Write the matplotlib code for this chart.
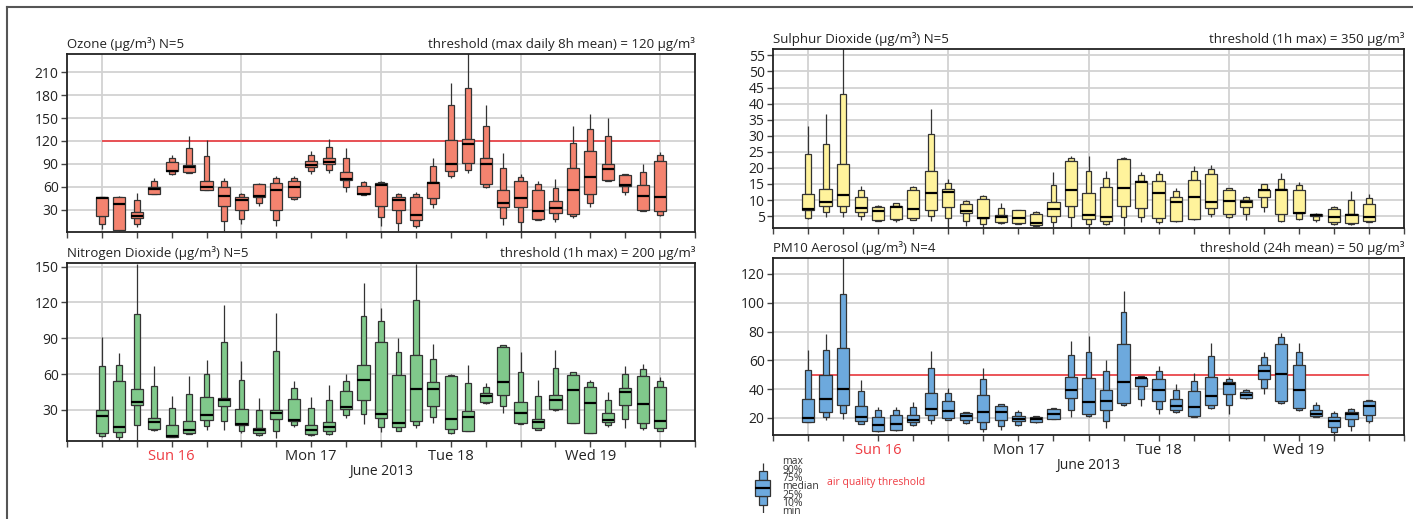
import matplotlib
matplotlib.use('Agg')
import matplotlib.pyplot as plt
from matplotlib.patches import Rectangle
from matplotlib.lines import Line2D

plt.rcParams['font.family'] = ['Open Sans', 'DejaVu Sans']

# box times: hours after Sun 16 June 2013 00:00, every 3 h
hours = list(range(0, 97, 3))
day_names = ['Sun 16', 'Mon 17', 'Tue 18', 'Wed 19']
day_noons = [12, 36, 60, 84]
midnights = [0, 24, 48, 72, 96]
six_hours = list(range(-6, 103, 6))

# each row: (min, 10%, 25%, median, 75%, 90%, max)
o3 = [
    (4, 11, 22, 45, 46, 47, 47), (2, 2.5, 3, 37, 46, 47, 48), (7, 11, 19, 22, 27, 42, 52),
    (50, 50, 51, 57, 60, 67, 71), (75, 77, 80, 81, 92, 98, 101), (78, 78, 79, 86, 89, 111, 126),
    (55, 55, 56, 59, 68, 100, 121), (2, 15, 35, 48, 60, 67, 71), (11, 18, 30, 43, 47, 51, 52),
    (34, 38, 46, 48, 64, 64, 65), (9, 16, 29, 55, 65, 71, 74), (43, 44, 46, 59, 68, 71, 74),
    (77, 80, 86, 89, 93, 102, 107), (78, 82, 90, 92, 97, 112, 122), (53, 59, 69, 70, 79, 98, 111),
    (49, 49, 50, 51, 61, 66, 68), (9, 20, 35, 62, 65, 66, 67), (2, 12, 30, 43, 46, 50, 52),
    (6, 9, 16, 23, 47, 51, 53), (32, 37, 45, 65, 66, 87, 98), (71, 74, 80, 90, 121, 167, 196),
    (78, 82, 91, 116, 122, 189, 240), (58, 60, 63, 90, 97, 139, 167), (10, 19, 33, 38, 55, 85, 104),
    (1, 14, 33, 45, 68, 73, 76), (16, 16, 17, 28, 56, 64, 68), (13, 18, 25, 32, 41, 58, 70),
    (19, 21, 24, 56, 84, 117, 140), (33, 39, 50, 73, 107, 136, 155), (68, 68, 69, 83, 90, 126, 150),
    (49, 53, 61, 62, 75, 76, 77), (28, 28, 29, 48, 62, 79, 90), (21, 23, 28, 47, 94, 101, 105),
]

no2 = [
    (7, 8, 11, 25, 30, 67, 91), (5, 7.4, 11.6, 16, 54, 68, 78), (5, 17, 34.5, 37, 47.5, 110, 152),
    (12, 13, 14, 20, 23, 50, 67), (7, 7, 7.5, 8, 17, 32, 42), (10, 10, 11, 13, 21, 43, 58),
    (13, 16.3, 21.5, 25.5, 41, 60, 72), (13.5, 21, 33, 38, 40, 87, 118), (11, 12, 17, 18, 31, 55, 71),
    (8, 9, 11, 13, 15, 30, 40), (6.3, 12.2, 22.5, 27.5, 30, 79, 111), (16, 17, 20.8, 21.6, 39.5, 48.4, 54),
    (8, 9, 9.5, 13, 17, 32, 41), (9, 10, 12, 16, 20, 38, 51), (23.3, 26, 31, 32.5, 45.6, 54, 60),
    (18.6, 27, 38.4, 55.3, 67.9, 109, 136), (11.3, 15.5, 23.3, 26.5, 86.6, 104.4, 115),
    (12, 12.2, 15.8, 19, 59.3, 78.2, 90.5), (14.7, 17.2, 21, 47.5, 75.7, 122, 152),
    (19, 24.4, 33, 47.5, 53, 72.6, 85.4), (10, 10.8, 14, 22.5, 58.7, 59.5, 60),
    (12, 12.2, 12.7, 24, 29.2, 52.3, 68), (35.3, 36, 37, 41.4, 44, 49, 52.5),
    (27.5, 33.3, 42.8, 53, 82.6, 84, 84.5), (18.3, 18.6, 18.9, 27.2, 36.4, 61.8, 78.8),
    (13, 13.6, 15, 19.7, 22.2, 42, 55), (29.5, 29.8, 30.8, 38, 42.5, 65.4, 80),
    (19, 19, 19.3, 46.4, 59, 61.8, 62), (10.5, 10.8, 11, 35.8, 49.5, 53.4, 55),
    (15.5, 17, 20.2, 21.4, 27.5, 38, 45), (15, 22.8, 34.2, 44.8, 48.4, 59.8, 67),
    (13.6, 15, 19, 35, 58.4, 64.5, 68.4), (12, 12.2, 15, 21, 49, 54.5, 57.9),
]

so2 = [
    (4, 4.3, 7, 7.3, 11.8, 24.4, 33), (4.8, 6.2, 8.1, 9.5, 13.4, 27.5, 36.7),
    (4.6, 6.3, 8.2, 11.7, 21.2, 42.9, 60), (3.7, 5, 6.4, 7.5, 10.9, 13, 14.4),
    (3.5, 3.6, 3.7, 6.7, 7.7, 8.2, 8.4), (3.3, 3.7, 4.2, 7.8, 8, 9, 9.2),
    (3.7, 3.8, 4.5, 7.1, 13.2, 14.1, 14.4), (3.5, 5, 7, 12.1, 19, 30.6, 38.3),
    (1, 4.5, 7.9, 12.6, 13.4, 15.3, 16.5), (1.9, 3.4, 6, 6.6, 8.7, 9.6, 10),
    (1.3, 2.7, 4.3, 4.4, 10.2, 11.2, 11.5), (2.6, 2.8, 3.2, 4.7, 5.2, 7.6, 9.2),
    (2.5, 2.7, 2.9, 4.4, 6.8, 6.9, 7), (1.7, 1.9, 2.1, 3, 5.7, 6.3, 6.6),
    (1.7, 3.2, 5, 7.1, 9.4, 14.8, 18.6), (1.7, 4.6, 8.3, 13.2, 22.3, 23.1, 23.6),
    (1, 2.7, 4.2, 5.5, 12.1, 19.1, 23.8), (2.3, 2.7, 3.6, 4.8, 14.2, 17, 18.9),
    (1.9, 4.6, 8.1, 13.9, 22.8, 23.2, 23.4), (3.1, 4.6, 7.4, 15.7, 16, 17.7, 18.7),
    (2.7, 3.3, 4.4, 12.3, 15.9, 18, 19), (3.3, 3.4, 3.6, 9.4, 10.9, 12.7, 13.9),
    (3.8, 4, 4.2, 11, 16.2, 19, 20.6), (4.6, 5.6, 7.4, 9.3, 18, 19.7, 20.8),
    (4.3, 4.6, 5.8, 9.8, 13.2, 13.6, 13.9), (3.8, 5.6, 7.7, 9.5, 10, 10.9, 11.4),
    (6.2, 7.8, 10.9, 13, 13.2, 14.9, 15.1), (3.3, 3.4, 5.6, 13.2, 13.5, 16.5, 18.5),
    (3.7, 4, 6, 6.1, 13.2, 14.7, 15.5), (3.2, 3.8, 5, 5.3, 5.6, 5.7, 5.9),
    (2.2, 2.5, 3.2, 4.6, 7.1, 7.9, 8.2), (2.1, 2.4, 2.9, 5.2, 5.6, 9.9, 12.8),
    (3.2, 3.3, 3.4, 4.7, 8.7, 10.6, 11.8),
]

pm10 = [
    (17, 17.3, 17.5, 19.8, 33, 53, 67), (18.4, 20.5, 24, 33.4, 50, 67, 78),
    (19.3, 23.2, 29, 40, 68.3, 106, 135), (15.5, 16, 17.7, 20.7, 28.3, 39, 46.3),
    (10.5, 10.7, 10.9, 15.4, 20.7, 25.3, 27.6), (11.3, 11.5, 11.7, 16, 22, 25.5, 27.6),
    (14.2, 15, 17, 18.8, 22, 27.6, 31.3), (16, 18.4, 22.3, 26.2, 37.3, 55, 66.6),
    (18.5, 18.8, 20, 24.8, 31.5, 37.3, 40.8), (16, 16.5, 18.8, 21.5, 23.5, 24, 24.5),
    (10, 12.6, 17.2, 24.4, 35.7, 47.2, 54.9), (12, 14.7, 18.8, 24.2, 28, 29.5, 30),
    (14.2, 15.4, 17.7, 19.5, 21.6, 24, 25.3), (16.5, 17, 17.3, 19, 20.8, 21.2, 21.5),
    (19, 19.2, 19.5, 23, 26.3, 26.6, 27), (20.5, 25.8, 33.8, 39.4, 48.4, 63.4, 73.6),
    (20.7, 21.2, 23, 30.9, 47.7, 65.7, 77), (13, 17.7, 25.5, 31.5, 39.6, 52.3, 60.4),
    (28.5, 29, 30.4, 45.2, 71.3, 93.4, 108), (28, 33.4, 42, 47.7, 48, 48.9, 49),
    (22.5, 26.2, 31.5, 39.4, 47.2, 52.3, 55.8), (23.5, 24, 25.3, 28.5, 33.4, 39.6, 43.5),
    (20.7, 21, 21.2, 27.6, 38.5, 46, 51.2), (26.2, 27, 29.2, 35, 48.4, 62.7, 72),
    (23, 28.8, 36.9, 43.5, 45, 47, 48.2), (33.5, 33.8, 34, 36.2, 37.8, 39.2, 40),
    (36.6, 40.8, 47.2, 52.3, 56.7, 62.3, 65.7), (30, 30.4, 32, 50.7, 71, 75.9, 78.9),
    (25, 25.3, 27.2, 39.2, 56.5, 65.7, 72), (20.7, 21, 21.2, 23, 25.5, 29, 30.9),
    (8.5, 10, 13.8, 17.7, 20.7, 23.7, 24.8), (10.8, 14.2, 19.5, 22.5, 23.9, 26.2, 27),
    (16.5, 18, 21.8, 28, 31.5, 32.2, 32.5),
]

legend_levels = (0, 1, 2, 3, 4, 5, 6)
legend_labels = ['min', '10%', '25%', 'median', '75%', '90%', 'max']

EDGE = '#333333'
GRID = '#d2d2d2'
RED = '#ee3b42'


def draw_box(ax, x, s, color, wide=2.1, narrow=1.0, lw=0.9):
    mn, p10, p25, med, p75, p90, mx = s
    ax.vlines(x, mn, p10, color=EDGE, lw=lw, zorder=2)
    ax.vlines(x, p90, mx, color=EDGE, lw=lw, zorder=2)
    ax.add_patch(Rectangle((x - narrow / 2, p10), narrow, p25 - p10,
                           fc=color, ec=EDGE, lw=lw, zorder=3))
    ax.add_patch(Rectangle((x - narrow / 2, p75), narrow, p90 - p75,
                           fc=color, ec=EDGE, lw=lw, zorder=3))
    ax.add_patch(Rectangle((x - wide / 2, p25), wide, p75 - p25,
                           fc=color, ec=EDGE, lw=lw, zorder=4))
    ax.hlines(med, x - wide / 2, x + wide / 2, color='black', lw=1.6, zorder=5)


def panel(rect, data, color, ylim, yticks, left_title, right_title,
          threshold=None, labels=False):
    ax = fig.add_axes(rect)
    ax.set_xlim(-6, 102)
    ax.set_ylim(*ylim)
    ax.set_yticks(yticks)
    ax.set_xticks(day_noons)
    ax.set_xticks([h for h in six_hours if h not in day_noons], minor=True)
    ax.tick_params(which='both', direction='out', length=4, width=1,
                   color='#444444', labelsize=10, labelcolor='#222222', pad=2)
    if labels:
        ax.set_xticklabels(day_names, fontsize=10.5)
        ax.get_xticklabels()[0].set_color(RED)
        ax.set_xlabel('June 2013', fontsize=10, labelpad=0, color='#222222')
    else:
        ax.set_xticklabels([])
    ax.yaxis.grid(True, color=GRID, lw=1.3, zorder=0)
    ax.set_axisbelow(True)
    for h in midnights:
        ax.axvline(h, color=GRID, lw=1.3, zorder=0.5)
    for sp in ax.spines.values():
        sp.set_linewidth(1.3)
        sp.set_color('#222222')
    if threshold is not None:
        ax.hlines(threshold, hours[0], hours[-1], color='#e9474b', lw=1.3, zorder=1)
    for h, s in zip(hours, data):
        draw_box(ax, h, s, color)
    ax.set_title(left_title, loc='left', fontsize=9.5, pad=4, color='#222222')
    ax.set_title(right_title, loc='right', fontsize=9.5, pad=4, color='#222222')
    return ax


fig = plt.figure(figsize=(14.13, 5.19), dpi=100)
W, H = 1413.0, 519.0


def rect(l, r, t, b):
    return [l / W, 1 - b / H, (r - l) / W, (b - t) / H]


panel(rect(67, 695, 54, 232), o3, '#f4836f', (0.5, 234), range(30, 211, 30),
      'Ozone (\u00b5g/m\u00b3) N=5',
      'threshold (max daily 8h mean) = 120 \u00b5g/m\u00b3', threshold=120)
panel(rect(67, 695, 263, 441), no2, '#80c98b', (4, 153), range(30, 151, 30),
      'Nitrogen Dioxide (\u00b5g/m\u00b3) N=5',
      'threshold (1h max) = 200 \u00b5g/m\u00b3', labels=True)
panel(rect(773, 1404, 49, 228), so2, '#fff39c', (1.3, 57), range(5, 56, 5),
      'Sulphur Dioxide (\u00b5g/m\u00b3) N=5',
      'threshold (1h max) = 350 \u00b5g/m\u00b3')
panel(rect(773, 1404, 258, 435), pm10, '#6da9dd', (8.2, 131), range(20, 121, 20),
      'PM10 Aerosol (\u00b5g/m\u00b3) N=4',
      'threshold (24h mean) = 50 \u00b5g/m\u00b3', threshold=50, labels=True)

# legend glyph
lax = fig.add_axes(rect(748, 778, 463, 513))
lax.set_xlim(-1, 1)
lax.set_ylim(0, 6)
lax.axis('off')
draw_box(lax, 0, legend_levels, '#6da9dd', wide=1.0, narrow=0.53)
for lv, lab in zip(legend_levels, legend_labels):
    lax.text(1.3, lv + 0.15, lab, fontsize=7.5, va='center', ha='left',
             color='#333333', clip_on=False)
fig.text(827 / W, 1 - 483 / H, 'air quality threshold', fontsize=7.5,
         color=RED, va='center', ha='left')

# outer frame lines
fig.add_artist(Line2D([7 / W, 1], [1 - 7 / H] * 2, color='#555555', lw=1.5))
fig.add_artist(Line2D([7 / W] * 2, [0, 1 - 7 / H], color='#555555', lw=1.5))

fig.savefig('out.png', dpi=100)
